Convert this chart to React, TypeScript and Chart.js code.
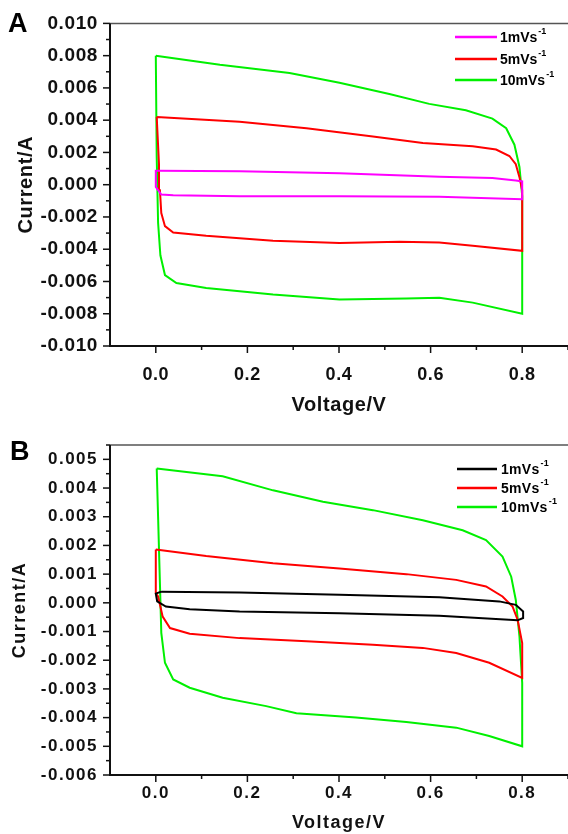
import React, { useEffect, useRef } from "react";
import { Chart, registerables } from "chart.js";

Chart.register(...registerables);

// ---------- data ----------
const SERIES_LABELS = ["1mVs", "5mVs", "10mVs"];
const SERIES_SUP = "-1";

const X_TICKS = [0, 0.2, 0.4, 0.6, 0.8];
const Y_TICKS_A = [-0.01, -0.008, -0.006, -0.004, -0.002, 0, 0.002, 0.004, 0.006, 0.008, 0.01];
const Y_TICKS_B = [-0.006, -0.005, -0.004, -0.003, -0.002, -0.001, 0, 0.001, 0.002, 0.003, 0.004, 0.005];

// Panel A
const A1_V = [0.005, 0.183, 0.401, 0.619, 0.735, 0.786, 0.8, 0.8, 0.8, 0.619, 0.401, 0.183, 0.038, 0.012, 0.0, 0.0, 0.005];
const A1_I = [0.00087, 0.00083, 0.00071, 0.0005, 0.00042, 0.00026, 0.0002, -0.0004, -0.0009, -0.00075, -0.00071, -0.00071, -0.00065, -0.00061, -0.00014, 0.00087, 0.00087];

const A5_V = [0.002, 0.183, 0.329, 0.474, 0.583, 0.692, 0.743, 0.772, 0.786, 0.794, 0.8, 0.8, 0.692, 0.619, 0.532, 0.401, 0.256, 0.11, 0.038, 0.02, 0.012, 0.009, 0.007, 0.002];
const A5_I = [0.0042, 0.0039, 0.0035, 0.00299, 0.00259, 0.00238, 0.00218, 0.00178, 0.00127, 0.00047, -0.00034, -0.0041, -0.00378, -0.00358, -0.00354, -0.00362, -0.00348, -0.00317, -0.00297, -0.00257, -0.00176, -0.00034, 0.00127, 0.0042];

const A10_V = [0.0, 0.14, 0.292, 0.401, 0.51, 0.597, 0.677, 0.735, 0.765, 0.783, 0.794, 0.8, 0.8, 0.692, 0.619, 0.547, 0.401, 0.256, 0.11, 0.045, 0.02, 0.01, 0.005, 0.002, 0.0];
const A10_I = [0.008, 0.00744, 0.00693, 0.00632, 0.00562, 0.00501, 0.00461, 0.0041, 0.0035, 0.00248, 0.0011, -0.0007, -0.008, -0.00731, -0.00701, -0.00705, -0.00711, -0.00681, -0.0064, -0.0061, -0.0056, -0.00438, -0.00236, 0.00168, 0.008];

// Panel B
const B1_V = [0.012, 0.183, 0.401, 0.619, 0.75, 0.786, 0.802, 0.802, 0.79, 0.619, 0.401, 0.183, 0.074, 0.022, 0.003, 0.0, 0.012];
const B1_I = [0.00039, 0.00036, 0.00028, 0.00019, 0.00005, -0.00007, -0.0003, -0.00053, -0.00061, -0.00045, -0.00036, -0.0003, -0.00022, -0.00013, 0.00005, 0.00032, 0.00039];

const B5_V = [0.0, 0.11, 0.256, 0.401, 0.547, 0.656, 0.721, 0.757, 0.779, 0.79, 0.8, 0.8, 0.728, 0.656, 0.583, 0.474, 0.329, 0.183, 0.074, 0.031, 0.015, 0.005, 0.0, 0.0];
const B5_I = [0.00186, 0.00163, 0.00138, 0.0012, 0.001, 0.0008, 0.00057, 0.00022, -0.00013, -0.00059, -0.0014, -0.00262, -0.00209, -0.00175, -0.00157, -0.00146, -0.00134, -0.00123, -0.00108, -0.00088, -0.00048, 0.00022, 0.00034, 0.00186];

const B10_V = [0.002, 0.146, 0.256, 0.365, 0.474, 0.583, 0.67, 0.721, 0.757, 0.776, 0.786, 0.794, 0.8, 0.8, 0.728, 0.656, 0.547, 0.437, 0.307, 0.241, 0.146, 0.074, 0.038, 0.02, 0.012, 0.009, 0.005, 0.002];
const B10_I = [0.00468, 0.00441, 0.00392, 0.00352, 0.00323, 0.00288, 0.00253, 0.00219, 0.00161, 0.00091, 0.0001, -0.00117, -0.00279, -0.005, -0.00464, -0.00435, -0.00415, -0.004, -0.00385, -0.0036, -0.00331, -0.00296, -0.00267, -0.00209, -0.00105, 0.00068, 0.003, 0.00468];

const COLORS_A = ["#ff00ff", "#ff0000", "#00f000"];
const COLORS_B = ["#000000", "#ff0000", "#00f000"];

const FONT = '"Liberation Sans", Arial, sans-serif';

const zip = (v: number[], i: number[]) => v.map((x, k) => ({ x, y: i[k] }));

// ---------- plugin: frame, ticks, panel letter, legend ----------
const framePlugin = {
  id: "frame",
  beforeDraw(chart: any, _args: any, opts: any) {
    chart.ctx.letterSpacing = opts.spacing || "0px";
  },
  afterDraw(chart: any, _args: any, opts: any) {
    const { ctx, chartArea } = chart;
    const { left, right, top, bottom } = chartArea;
    const xs = chart.scales.x;
    const ys = chart.scales.y;
    ctx.save();
    // top border
    ctx.strokeStyle = "#555";
    ctx.lineWidth = 1.5;
    ctx.beginPath();
    ctx.moveTo(left, top);
    ctx.lineTo(right, top);
    ctx.stroke();
    // axes
    ctx.strokeStyle = "#111";
    ctx.lineWidth = 2;
    ctx.beginPath();
    ctx.moveTo(left, top);
    ctx.lineTo(left, bottom);
    ctx.lineTo(right, bottom);
    ctx.stroke();
    // y ticks
    const yt = ys.ticks.map((t: any) => t.value);
    ctx.lineWidth = 1.5;
    yt.forEach((v: number, k: number) => {
      const p = ys.getPixelForValue(v);
      ctx.beginPath();
      ctx.moveTo(left - 7, p);
      ctx.lineTo(left, p);
      ctx.stroke();
      const nxt = k < yt.length - 1 ? (v + yt[k + 1]) / 2 : v + (v - yt[k - 1]) / 2;
      if (nxt <= ys.max + 1e-9) {
        const q = ys.getPixelForValue(nxt);
        ctx.beginPath();
        ctx.moveTo(left - 4, q);
        ctx.lineTo(left, q);
        ctx.stroke();
      }
    });
    // x ticks
    const xt = xs.ticks.map((t: any) => t.value);
    xt.forEach((v: number, k: number) => {
      const p = xs.getPixelForValue(v);
      ctx.beginPath();
      ctx.moveTo(p, bottom);
      ctx.lineTo(p, bottom + 7);
      ctx.stroke();
      const step = k < xt.length - 1 ? xt[k + 1] - v : v - xt[k - 1];
      const nxt = v + step / 2;
      if (nxt <= xs.max + 1e-9) {
        const q = xs.getPixelForValue(nxt);
        ctx.beginPath();
        ctx.moveTo(q, bottom);
        ctx.lineTo(q, bottom + 4);
        ctx.stroke();
      }
    });
    // panel letter
    ctx.fillStyle = "#000";
    ctx.letterSpacing = "0px";
    ctx.font = `bold 27px ${FONT}`;
    ctx.textBaseline = "alphabetic";
    ctx.textAlign = "left";
    ctx.fillText(opts.letter, opts.letterX, opts.letterY);
    // legend
    const items = chart.data.datasets;
    items.forEach((ds: any, k: number) => {
      const ry = opts.legendY[k];
      ctx.strokeStyle = ds.borderColor;
      ctx.lineWidth = 2.5;
      ctx.beginPath();
      ctx.moveTo(opts.legendX1, ry);
      ctx.lineTo(opts.legendX2, ry);
      ctx.stroke();
      ctx.fillStyle = "#000";
      ctx.letterSpacing = opts.legendSpacing || "0px";
      ctx.font = `bold ${opts.legendFont}px ${FONT}`;
      ctx.textBaseline = "middle";
      ctx.fillText(ds.label, opts.legendTextX, ry + 1);
      const w = ctx.measureText(ds.label).width;
      ctx.font = `bold 9px ${FONT}`;
      ctx.fillText(SERIES_SUP, opts.legendTextX + w + 1, ry - 5);
    });
    ctx.restore();
    ctx.letterSpacing = "0px";
  },
};

function makeConfig(panel: any) {
  return {
    type: "scatter",
    data: {
      datasets: panel.series.map((s: any, k: number) => ({
        label: SERIES_LABELS[k],
        data: s,
        showLine: true,
        borderColor: panel.colors[k],
        backgroundColor: panel.colors[k],
        borderWidth: 2,
        pointRadius: 0,
        tension: 0,
        fill: false,
      })),
    },
    options: {
      animation: false,
      responsive: false,
      maintainAspectRatio: false,
      layout: { padding: { left: 0, right: 0, top: panel.top, bottom: 0 } },
      plugins: {
        legend: { display: false },
        tooltip: { enabled: false },
        frame: panel.frame,
      },
      scales: {
        x: {
          type: "linear",
          min: -0.1,
          max: 0.9,
          grid: { display: false, drawTicks: false },
          border: { display: false },
          afterBuildTicks: (s: any) => {
            s.ticks = X_TICKS.map((v) => ({ value: v }));
          },
          afterFit: (s: any) => {
            s.height = panel.xHeight;
          },
          ticks: {
            autoSkip: false,
            maxRotation: 0,
            padding: panel.xPad,
            color: "#111",
            font: { family: FONT, size: panel.xFont, weight: "bold" },
            callback: (v: number) => v.toFixed(1),
          },
          title: {
            display: true,
            text: "Voltage/V",
            color: "#111",
            font: { family: FONT, size: panel.titleFont, weight: "bold" },
            padding: { top: 0, bottom: 0 },
          },
        },
        y: {
          type: "linear",
          min: panel.yMin,
          max: panel.yMax,
          grid: { display: false, drawTicks: false },
          border: { display: false },
          afterBuildTicks: (s: any) => {
            s.ticks = panel.yTicks.map((v: number) => ({ value: v }));
          },
          afterFit: (s: any) => {
            s.width = 110;
          },
          ticks: {
            autoSkip: false,
            padding: 12,
            color: "#111",
            font: { family: FONT, size: panel.yFont, weight: "bold" },
            callback: (v: number) => v.toFixed(3),
          },
          title: {
            display: true,
            text: "Current/A",
            color: "#111",
            font: { family: FONT, size: panel.titleFont, weight: "bold" },
            padding: { top: panel.yTitlePad, bottom: 0 },
          },
        },
      },
    },
    plugins: [framePlugin],
  };
}

const PANEL_A = {
  series: [zip(A1_V, A1_I), zip(A5_V, A5_I), zip(A10_V, A10_I)],
  colors: COLORS_A,
  top: 16,
  xHeight: 71,
  yMin: -0.01,
  yMax: 0.01,
  yTicks: Y_TICKS_A,
  yFont: 19,
  xFont: 18,
  xPad: 18,
  titleFont: 20,
  yTitlePad: 14,
  frame: {
    spacing: "0.6px",
    letter: "A",
    letterX: 8,
    letterY: 32,
    legendX1: 455,
    legendX2: 497,
    legendTextX: 500,
    legendY: [37, 59, 80],
    legendFont: 14,
    legendSpacing: "0px",
  },
};

const PANEL_B = {
  series: [zip(B1_V, B1_I), zip(B5_V, B5_I), zip(B10_V, B10_I)],
  colors: COLORS_B,
  top: 28,
  xHeight: 59,
  yMin: -0.006,
  yMax: 0.0055,
  yTicks: Y_TICKS_B,
  yFont: 17,
  xFont: 17,
  xPad: 8,
  titleFont: 18,
  yTitlePad: 9,
  frame: {
    spacing: "1.5px",
    letter: "B",
    letterX: 10,
    letterY: 43,
    legendX1: 457,
    legendX2: 497,
    legendTextX: 501,
    legendY: [52, 71, 90],
    legendFont: 14,
    legendSpacing: "0.3px",
  },
};

function Panel({ panel }: { panel: any }) {
  const ref = useRef<HTMLCanvasElement | null>(null);
  useEffect(() => {
    if (!ref.current) return;
    const chart = new Chart(ref.current, makeConfig(panel) as any);
    return () => chart.destroy();
  }, [panel]);
  return <canvas ref={ref} width={568} height={417} style={{ display: "block", width: 568, height: 417 }} />;
}

export default function App() {
  return (
    <div style={{ position: "absolute", left: 0, top: 0, width: 568, height: 834, background: "#fff" }}>
      <Panel panel={PANEL_A} />
      <Panel panel={PANEL_B} />
    </div>
  );
}
